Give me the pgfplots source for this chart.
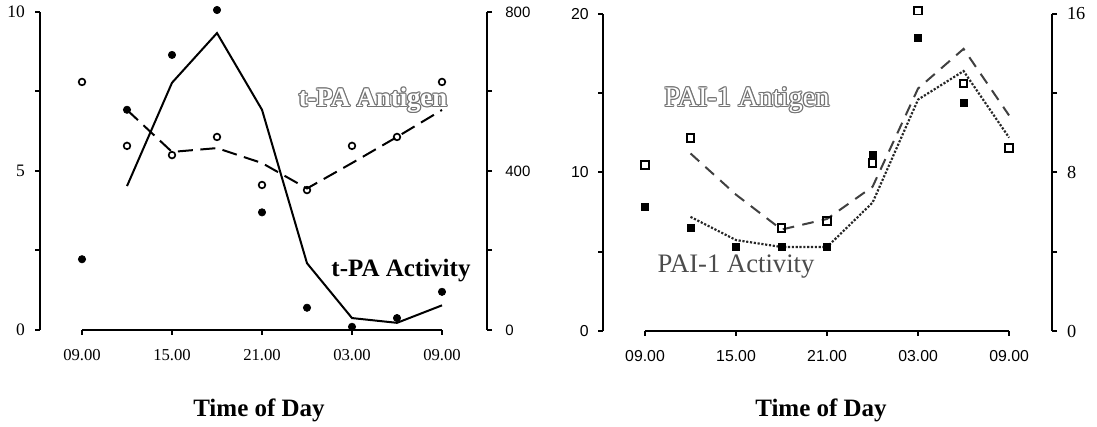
\documentclass[border=0pt]{standalone}
\usepackage{fontspec}
\setmainfont{Liberation Serif}
\newfontfamily\arialfont{Liberation Sans}
\usepackage{pgfplots}
\pgfplotsset{compat=1.18}

\newcommand{\hollowtext}[3]{%
  \foreach \dx/\dy in {0.7pt/0pt,-0.7pt/0pt,0pt/0.7pt,0pt/-0.7pt,0.5pt/0.5pt,-0.5pt/0.5pt,0.5pt/-0.5pt,-0.5pt/-0.5pt}{%
    \node[text=black!55, font=#2, xshift=\dx, yshift=\dy] at (#1) {#3};}
  \node[text=white, font=#2] at (#1) {#3};
}

\pgfplotsset{
  panel/.style={
    scale only axis, anchor=south west, clip=false,
    tick align=outside, major tick length=3pt,
    every tick/.style={black, line width=1.2pt},
    axis line style={line width=1.2pt},
  },
}

\begin{document}
\begin{tikzpicture}
\useasboundingbox (0,0) rectangle (658.2pt,256.2pt);

% ---------------- Left panel ----------------
\begin{axis}[panel,
  width=268.2pt, height=190.8pt, at={(24pt,58.2pt)},
  xmin=-2.8, xmax=27, ymin=0, ymax=10,
  axis y line*=left, axis x line*=bottom,
  x axis line style={draw=none},
  xtick={0,6,12,18,24}, xticklabels={09.00,15.00,21.00,03.00,09.00},
  ytick={0,2.5,5,7.5,10}, yticklabels={0,,5,,10},
  xticklabel style={font=\fontsize{10}{12}\selectfont, yshift=-5pt},
  yticklabel style={font=\fontsize{10.5}{12}\selectfont, xshift=-2.5pt},
]
\draw[line width=1.2pt] (axis cs:0,0) -- (axis cs:24,0);
\addplot[black, line width=1.2pt, dash pattern=on 9pt off 4.5pt] coordinates {
 (3,6.92) (6,5.6) (9,5.72) (12,5.25) (15,4.45) (18,5.25) (21,6.07) (24,6.92)};
\addplot[only marks, mark=o, mark size=2pt, mark options={line width=1pt, fill=white}] coordinates {
 (0,7.8) (3,5.79) (6,5.5) (9,6.07) (12,4.56) (15,4.4) (18,5.79) (21,6.07) (24,7.8)};
\end{axis}
\begin{axis}[panel,
  width=268.2pt, height=190.8pt, at={(24pt,58.2pt)},
  xmin=-2.8, xmax=27, ymin=0, ymax=800,
  axis y line*=right, axis x line=none,
  ytick={0,200,400,600,800}, yticklabels={0,,400,,800},
  yticklabel style={font=\arialfont\fontsize{9}{11}\selectfont, xshift=4.5pt},
]
\addplot[black, line width=1.2pt] coordinates {
 (3,362) (6,622) (9,747) (12,554) (15,168) (18,30) (21,18) (24,62)};
\addplot[only marks, mark=*, mark size=2.2pt, black] coordinates {
 (0,178) (3,554) (6,692) (9,805) (12,296) (15,56) (18,8) (21,30) (24,96)};
\end{axis}

% ---------------- Right panel ----------------
\begin{axis}[panel,
  width=269.4pt, height=190.2pt, at={(361.8pt,57.6pt)},
  xmin=-2.77, xmax=26.83, ymin=0, ymax=20,
  axis y line*=left, axis x line*=bottom,
  x axis line style={draw=none},
  xtick={0,6,12,18,24}, xticklabels={09.00,15.00,21.00,03.00,09.00},
  ytick={0,5,10,15,20}, yticklabels={0,,10,,20},
  xticklabel style={font=\arialfont\fontsize{9.5}{12}\selectfont, yshift=-5pt},
  yticklabel style={font=\arialfont\fontsize{9.5}{11}\selectfont, xshift=-2pt},
]
\draw[line width=1.2pt] (axis cs:0,0) -- (axis cs:24,0);
\addplot[black!75, line width=1.2pt, dash pattern=on 7pt off 5pt] coordinates {
 (3,11.2) (6,8.6) (9,6.4) (12,7.07) (15,9.1) (18,15.3) (21,17.8) (24,13.6)};
\addplot[only marks, mark=square, mark size=2.2pt, mark options={line width=1.1pt, fill=white}] coordinates {
 (0,10.47) (3,12.18) (9,6.5) (12,6.94) (15,10.6) (18,20.2) (21,15.6) (24,11.55)};
\end{axis}
\begin{axis}[panel,
  width=269.4pt, height=190.2pt, at={(361.8pt,57.6pt)},
  xmin=-2.77, xmax=26.83, ymin=0, ymax=16,
  axis y line*=right, axis x line=none,
  ytick={0,4,8,12,16}, yticklabels={0,,8,,16},
  yticklabel style={font=\fontsize{11}{13}\selectfont, xshift=2.5pt},
]
\addplot[black!85, line width=1.3pt, densely dotted] coordinates {
 (3,5.76) (6,4.59) (9,4.24) (12,4.24) (15,6.48) (18,11.68) (21,13.12) (24,9.76)};
\addplot[only marks, mark=square*, mark size=2.1pt, black] coordinates {
 (0,6.26) (3,5.2) (6,4.24) (9,4.24) (12,4.24) (15,8.88) (18,14.8) (21,11.52)};
\end{axis}

% ---------------- Labels ----------------
\hollowtext{223.8pt,196.2pt}{\fontsize{16}{19}\bfseries\selectfont}{t-PA Antigen}
\node[font=\fontsize{15}{18}\bfseries\selectfont] at (240.6pt,93.6pt) {t-PA Activity};
\hollowtext{448.2pt,196.2pt}{\fontsize{17}{20}\selectfont}{PAI-1 Antigen}
\node[text=black!70, font=\fontsize{16}{19}\selectfont] at (441.6pt,96pt) {PAI-1 Activity};
\node[font=\fontsize{15}{18}\bfseries\selectfont] at (155.4pt,10.2pt) {Time of Day};
\node[font=\fontsize{15}{18}\bfseries\selectfont] at (492.6pt,10.2pt) {Time of Day};
\end{tikzpicture}
\end{document}
